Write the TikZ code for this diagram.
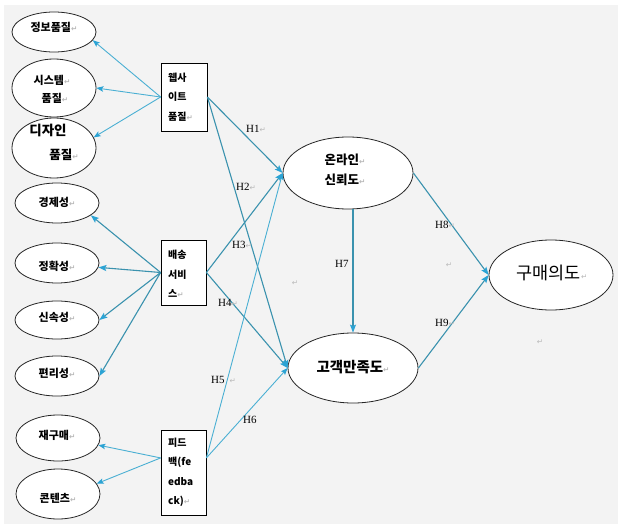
\documentclass[tikz,border=0pt]{standalone}
\usepackage{fontspec}
\usetikzlibrary{shapes.geometric,arrows.meta,calc}
\newfontfamily\kr{Noto Sans CJK KR}
\newfontfamily\hser{Liberation Serif}
\newfontfamily\dv{DejaVu Sans}
\definecolor{bgc}{HTML}{F3F3F3}
\definecolor{lnc}{HTML}{3A92AE}
\definecolor{lnl}{HTML}{4AAFD3}
\definecolor{tipc}{HTML}{2BA3D4}
\newcommand\ret{{\dv\fontsize{7.5}{7.5}\selectfont\textcolor{gray!55}{↵}}}
\begin{document}
\begin{tikzpicture}[x=1pt,y=-1pt,
 ell/.style={ellipse,draw=black!85,fill=white,line width=0.8pt,inner sep=0pt},
 box/.style={rectangle,draw=black,fill=white,line width=0.8pt,inner sep=0pt},
 arr/.style={draw=lnc,line width=1.1pt,-{Stealth[length=8pt,width=6pt,inset=1.5pt,color=tipc]}},
 arrl/.style={draw=lnl,line width=0.9pt,-{Stealth[length=7pt,width=5.5pt,inset=1.5pt,color=tipc]}},
 hl/.style={font=\hser\fontsize{11}{11}\selectfont,inner sep=0pt,anchor=west},
 lab/.style={font=\kr\bfseries\fontsize{11}{13}\selectfont,inner sep=0pt},
 boxt/.style={font=\kr\bfseries\fontsize{10}{19.5}\selectfont,align=left,inner sep=0pt,anchor=west},
 stray/.style={inner sep=0pt}]
\useasboundingbox (0,0) rectangle (618,524);
\fill[white] (0,0) rectangle (618,524);
\fill[bgc] (4,5) rectangle (618,524);

% left ellipses
\node[ell,minimum width=84pt,minimum height=40pt] (a1) at (54,32) {};
\node[ell,minimum width=84pt,minimum height=58pt] (a2) at (54,88) {};
\node[ell,minimum width=84pt,minimum height=60pt] (a3) at (54,148) {};
\node[ell,minimum width=84pt,minimum height=40pt] (b1) at (57,203) {};
\node[ell,minimum width=84pt,minimum height=40pt] (b2) at (57,263) {};
\node[ell,minimum width=84pt,minimum height=38pt] (b3) at (57,320) {};
\node[ell,minimum width=84pt,minimum height=40pt] (b4) at (57,376) {};
\node[ell,minimum width=84pt,minimum height=46pt] (c1) at (58,438) {};
\node[ell,minimum width=84pt,minimum height=50pt] (c2) at (58,494) {};

\node[lab] (a1t) at (54,27) {정보품질\ret};
\node[lab] (a2t) at (52,80) {시스템\ret};
\node[lab] (a2u) at (55,98) {품질\ret};
\node[inner sep=0pt,font=\kr\bfseries\fontsize{13.5}{15}\selectfont] (a3t) at (48,130) {디자인};
\node[inner sep=0pt,font=\kr\bfseries\fontsize{12.5}{15}\selectfont] (a3u) at (64,155) {품질\ret};
\node[lab] (b1t) at (57,202) {경제성\ret};
\node[lab] (b2t) at (57,266) {정확성\ret};
\node[lab] (b3t) at (57,317) {신속성\ret};
\node[lab] (b4t) at (57,373) {편리성\ret};
\node[lab] (c1t) at (57,435) {재구매\ret};
\node[lab] (c2t) at (58,498) {콘텐츠\ret};

% boxes
\node[box,minimum width=46pt,minimum height=68pt] (wq) at (184,97) {};
\node[box,minimum width=45pt,minimum height=65pt] (ds) at (183.5,272.5) {};
\node[box,minimum width=45pt,minimum height=85pt] (fb) at (183.5,472.5) {};
\node[boxt] (wqt) at (168,97) {웹사\\이트\\품질\ret};
\node[boxt] (dst) at (168,274) {배송\\서비\\스\ret};
\node[boxt] (fbt) at (168,472.5) {피드\\백(fe\\edba\\ck)\ret};
\coordinate (fbl) at ($(fb.north west)!0.33!(fb.south west)$);
\coordinate (fbr) at ($(fb.north east)!0.33!(fb.south east)$);

% central ellipses
\node[ell,minimum width=130pt,minimum height=72pt] (on) at (348,173) {};
\node[ell,minimum width=130pt,minimum height=70pt] (gm) at (353,368) {};
\node[ell,minimum width=124pt,minimum height=70pt] (gu) at (551,275) {};
\node[font=\kr\bfseries\fontsize{12.5}{20}\selectfont,align=center,inner sep=0pt] (ont) at (345,170) {온라인\ret\\신뢰도\ret};
\node[font=\kr\bfseries\fontsize{14.5}{16}\selectfont,inner sep=0pt] (gmt) at (353,367) {고객만족도\ret};
\node[font=\kr\fontsize{17.5}{19}\selectfont,inner sep=0pt] (gut) at (552,273) {구매의도\ret};

% left arrows
\draw[arrl] (wq.west) -- (a1.-12);
\draw[arrl] (wq.west) -- (a2.east);
\draw[arrl] (wq.west) -- (a3.15);
\draw[arr] (ds.west) -- (b1.-20);
\draw[arr] (ds.west) -- (b2.-6);
\draw[arr] (ds.west) -- (b3.east);
\draw[arr] (ds.west) -- (b4.east);
\draw[arrl] (fbl) -- (c1.-10);
\draw[arrl] (fbl) -- (c2.15);

% right arrows
\draw[arr] (wq.east) -- (on.west);
\draw[arr] (wq.east) -- (gm.west);
\draw[arr] (ds.east) -- (on.west);
\draw[arr] (ds.east) -- (gm.west);
\draw[arrl] (fbr) -- (on.west);
\draw[arrl] (fbr) -- (gm.west);
\draw[arr] (on.south -| gm.north) -- (gm.north);
\draw[arr] (on.east) -- (gu.west);
\draw[arr] (gm.east) -- (gu.west);

% hypothesis labels
\node[hl] (h1) at (246,129) {H1\ret};
\node[hl] (h2) at (236,187) {H2\ret};
\node[hl] (h3) at (232,245) {H3\ret};
\node[hl] (h4) at (218,303) {H4\ret};
\node[hl] (h5) at (211,380) {H5\hspace{5pt}\ret};
\node[hl] (h6) at (243,420) {H6};
\node[hl] (h7) at (335,264) {H7};
\node[hl] (h8) at (435,225) {H8\ret};
\node[hl] (h9) at (435,323) {H9\ret};

% stray paragraph marks
\node[stray] (s1) at (295,283) {\ret};
\node[stray] (s2) at (449,265) {\ret};
\node[stray] (s3) at (540,342) {\ret};
\end{tikzpicture}
\end{document}
